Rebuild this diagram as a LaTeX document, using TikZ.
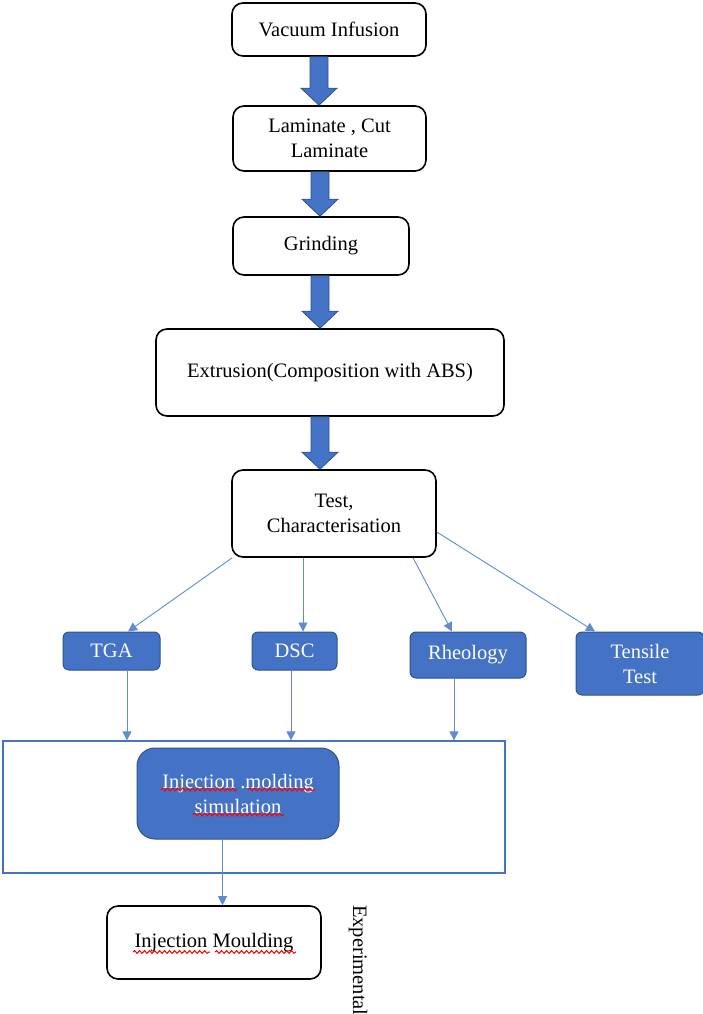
\documentclass[tikz,border=0pt]{standalone}
\usepackage{fontspec}
\setmainfont{Liberation Serif}
\usetikzlibrary{calc,arrows.meta,decorations.pathmorphing}
\definecolor{blu}{HTML}{4472C4}
\definecolor{blud}{HTML}{2F528F}
\definecolor{lineblu}{RGB}{96,138,212}
\newcommand{\barrow}[3]{\path[fill=blu, draw=blud, line width=0.8pt] let \p1=(#1.south), \p2=(#2.north) in (#3pt-9pt,\y1) -- (#3pt+9pt,\y1) -- (#3pt+9pt,\y2+17pt) -- (#3pt+18pt,\y2+17pt) -- (#3pt,\y2) -- (#3pt-18pt,\y2+17pt) -- (#3pt-9pt,\y2+17pt) -- cycle;}
\begin{document}
\begin{tikzpicture}[x=1pt,y=-1pt,
 font=\fontsize{20.5}{25}\selectfont,
 wbox/.style={draw=black, line width=1.6pt, rounded corners=11pt, fill=white, align=center, inner sep=0pt},
 bbox/.style={draw=blud, line width=1pt, rounded corners=6pt, fill=blu, text=white, align=center, inner sep=0pt},
 conn/.style={draw=lineblu, line width=0.9pt, -{Triangle[width=9pt,length=9pt]}},
 squig/.style={draw=red, line width=1pt, decorate, decoration={snake, amplitude=1.4pt, segment length=5pt}},
]
\useasboundingbox (0,0) rectangle (703,1014);

\node[wbox, minimum width=194pt, minimum height=53pt] (vac) at (329,29.5) {Vacuum Infusion};
\node[wbox, minimum width=193pt, minimum height=65pt] (lam) at (329.5,138.5) {Laminate , Cut\\Laminate};
\node[wbox, minimum width=176pt, minimum height=58pt] (gri) at (321,246) {Grinding};
\node[wbox, minimum width=348pt, minimum height=87pt] (ext) at (330,372.5) {Extrusion(Composition with ABS)};
\node[wbox, minimum width=204pt, minimum height=87pt] (test) at (334,513.5) {Test,\\Characterisation};

\node[bbox, minimum width=97pt, minimum height=38pt] (tga) at (111.5,651) {TGA};
\node[bbox, minimum width=85pt, minimum height=38pt] (dsc) at (294.5,651) {DSC};
\node[bbox, minimum width=116pt, minimum height=46pt] (rhe) at (468,655) {Rheology};
\node[bbox, minimum width=128pt, minimum height=63pt] (ten) at (640,663.5) {Tensile\\Test};

\node[draw=blu, line width=1.3pt, minimum width=502pt, minimum height=132pt, inner sep=0pt] (frame) at (254,807) {};
\node[bbox, rounded corners=18pt, minimum width=202pt, minimum height=91pt] (sim) at (238,793.5) {Injection .molding\\simulation};
\node[wbox, minimum width=214pt, minimum height=73pt] (inj) at (214,942.5) {Injection Moulding};
\node[rotate=-90, anchor=base west, inner sep=0pt] (exp) at (353,905) {Experimental};

\barrow{vac}{lam}{319}
\barrow{lam}{gri}{320}
\barrow{gri}{ext}{320}
\barrow{ext}{test}{320}

\draw[conn] ($(test.south west)+(1,0)$) -- ($(tga.north)+(16.5,0)$);
\draw[conn] ($(test.south)+(-31,0)$) -- ($(dsc.north)+(8.5,0)$);
\draw[conn] ($(test.south)+(79,0)$) -- ($(rhe.north)+(-16,0)$);
\draw[conn] ($(test.east)+(0,18.5)$) -- ($(ten.north)+(-45,0)$);

\coordinate (t1) at ($(tga.south)+(15.5,0)$);
\coordinate (t2) at ($(dsc.south)+(-3.5,0)$);
\coordinate (t3) at ($(rhe.south)+(-14,0)$);
\coordinate (s1) at ($(sim.south)+(-15.5,0)$);
\draw[conn] (t1) -- (t1 |- frame.north);
\draw[conn] (t2) -- (t2 |- frame.north);
\draw[conn] (t3) -- (t3 |- frame.north);
\draw[conn] (s1) -- (s1 |- inj.north);

\draw[squig] ($(sim.center)+(-77,-4)$) -- ($(sim.center)+(-1,-4)$);
\draw[squig] ($(sim.center)+(10,-4)$) -- ($(sim.center)+(77,-4)$);
\draw[squig] ($(sim.center)+(-45,21)$) -- ($(sim.center)+(46,21)$);
\draw[squig] ($(inj.center)+(-81,9.5)$) -- ($(inj.center)+(-4,9.5)$);
\draw[squig] ($(inj.center)+(1,9.5)$) -- ($(inj.center)+(82,9.5)$);
\end{tikzpicture}
\end{document}
